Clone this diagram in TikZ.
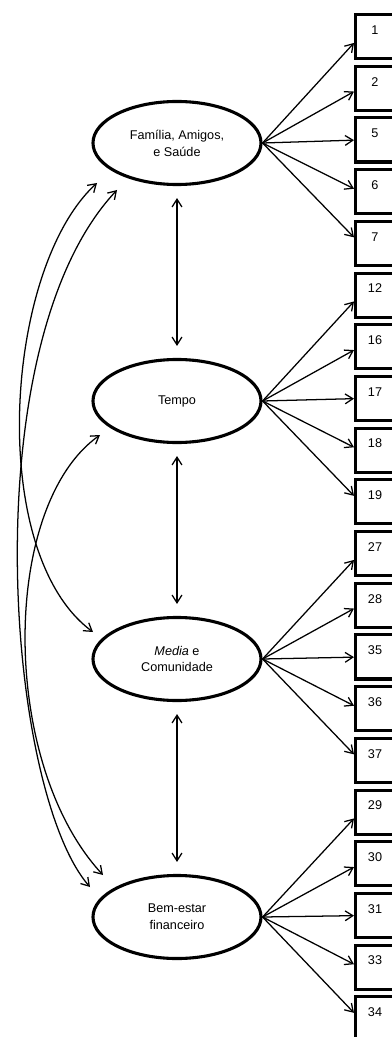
\documentclass[tikz,border=0pt]{standalone}
\usepackage{fontspec}
\setmainfont{Liberation Sans}
\usetikzlibrary{shapes.geometric,arrows.meta}
\tikzset{
  factor/.style={ellipse, draw, line width=2.2pt, minimum width=4.2cm,
    minimum height=2.075cm, inner sep=0pt, align=center,
    font=\fontsize{9}{12}\selectfont},
  itembox/.style={rectangle, draw, line width=2.2pt, minimum width=1.9cm,
    minimum height=1.1cm, anchor=north west, inner sep=0pt},
  itemnum/.style={font=\fontsize{9}{11}\selectfont, inner sep=0pt},
  load/.style={->, line width=0.9pt},
  corr/.style={<->, line width=0.9pt, shorten <=0.3cm, shorten >=0.3cm},
  cov/.style={<->, line width=0.9pt},
  >={Straight Barb[length=5.5pt,width=7pt]}
}
\begin{document}
\begin{tikzpicture}[x=0.025cm, y=-0.025cm]
  \useasboundingbox (0,0) rectangle (392,1037);
  \clip (0,0) rectangle (392,1037);
  % latent factors
  \node[factor] (fam) at (177,143) {Família, Amigos,\\e Saúde};
  \node[factor] (tem) at (177,401) {Tempo};
  \node[factor] (med) at (177,659) {\textit{Media} e\\Comunidade};
  \node[factor] (bem) at (177,917) {Bem-estar\\financeiro};
  % observed items
  \foreach \lbl [count=\i from 0] in {1,2,5,6,7,12,16,17,18,19,27,28,35,36,37,29,30,31,33,34} {
    \node[itembox] (b\i) at (354,{13+51.7*\i}) {};
    \node[itemnum] (n\i) at ([shift={(21,17)}]b\i.north west) {\lbl};
  }
  % loadings
  \foreach \e [count=\g from 0] in {fam,tem,med,bem}
    \foreach \k in {0,...,4} {
      \pgfmathtruncatemacro\i{5*\g+\k}
      \pgfmathsetmacro\off{6.4-3.1*\k}
      \draw[load] (\e.east) -- ([shift={(0,\off)}]b\i.west);
    }
  % correlations
  \draw[corr] (fam) -- (tem);
  \draw[corr] (tem) -- (med);
  \draw[corr] (med) -- (bem);
  \draw[cov] ([shift={(-80,40)}]fam.center) .. controls (4,268) and (-14,553) .. ([shift={(-84,-27)}]med.center);
  \draw[cov] ([shift={(-60,47)}]fam.center) .. controls (-28,344) and (6,791) .. ([shift={(-87,-30)}]bem.center);
  \draw[cov] ([shift={(-77,34)}]tem.center) .. controls (0,506) and (0,764) .. ([shift={(-74,-42)}]bem.center);
\end{tikzpicture}
\end{document}
